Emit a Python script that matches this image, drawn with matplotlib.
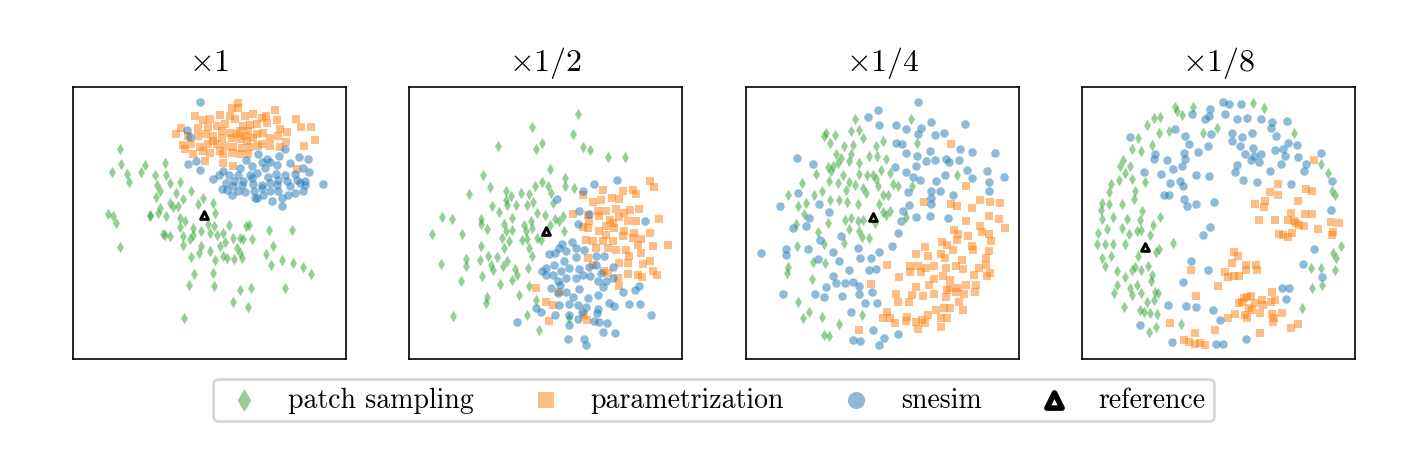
import matplotlib
matplotlib.use("Agg")
import matplotlib.pyplot as plt
import numpy as np

plt.rcParams['mathtext.fontset'] = 'cm'

titles = [r'$\times 1$', r'$\times 1/2$', r'$\times 1/4$', r'$\times 1/8$']
labels = ['patch sampling', 'parametrization', 'snesim', 'reference']

# ---- panel 1 (x1) ----
p1_patch = [(152,193),(155,238),(128,262),(172,268),(178,292),(213,262),(226,242),(285,235),(255,272),(290,272),(262,300),(270,318),(302,295),(330,292),(320,325),(260,338),(300,355),(340,342),(365,320),(385,358),(400,340),(428,355),(435,385),(310,368),(325,365),(270,370),(265,385),(290,395),(240,395),(115,388),(130,395),(140,415),(150,487),(330,400),(345,410),(332,428),(370,430),(340,455),(370,452),(360,462),(395,438),(415,418),(420,445),(433,425),(440,450),(460,445),(478,422),(465,472),(490,460),(510,460),(518,462),(527,425),(537,420),(547,463),(500,490),(510,505),(515,520),(460,515),(470,520),(492,523),(450,485),(420,500),(393,485),(388,505),(365,518),(435,527),(340,480),(285,450),(300,455),(598,435),(665,437),(610,485),(588,508),(604,540),(637,527),(670,536),(698,547),(722,567),(645,610),(543,610),(510,617),(488,650),(533,665),(432,605),(430,565),(373,568),(357,602),(342,698),(280,448),(240,392)]
p1_param = [(505,55),(485,70),(505,72),(480,95),(525,95),(548,88),(575,100),(588,95),(615,78),(677,105),(723,128),(693,128),(652,142),(630,135),(620,108),(590,115),(560,118),(540,122),(520,125),(495,105),(465,118),(450,92),(420,105),(400,108),(375,95),(385,130),(415,128),(440,125),(455,140),(480,145),(510,140),(535,140),(560,150),(580,145),(600,160),(625,155),(648,172),(735,168),(703,185),(335,130),(320,148),(355,155),(385,155),(410,150),(430,155),(455,160),(485,162),(510,165),(530,170),(550,160),(575,180),(600,185),(630,188),(340,182),(365,180),(392,188),(415,180),(440,180),(465,185),(490,188),(515,192),(540,188),(565,185),(460,210),(485,205),(510,210),(535,208),(370,210),(400,200),(405,228),(460,235),(488,245),(680,252),(345,195),(430,170),(500,150),(525,155),(450,200),(420,205)]
p1_snesim = [(390,52),(352,138),(360,158),(356,237),(378,230),(392,256),(527,225),(563,210),(590,223),(628,213),(645,193),(686,218),(713,224),(660,235),(620,242),(600,233),(575,232),(545,245),(510,250),(460,260),(430,283),(447,270),(478,270),(505,270),(540,270),(560,265),(585,250),(618,268),(645,272),(675,268),(700,250),(718,262),(705,290),(760,298),(680,285),(650,290),(625,285),(600,295),(575,300),(550,298),(520,290),(493,290),(468,295),(455,313),(485,330),(505,318),(525,322),(552,320),(560,340),(580,330),(600,320),(625,318),(655,330),(675,325),(700,320),(705,302),(605,350),(635,340),(637,365),(555,340),(575,310),(595,278),(545,280),(515,300),(490,305),(470,315),(620,300),(660,305),(690,295)]
p1_ref = [(402,390)]

# ---- panel 2 (x1/2) ----
p2_patch = [(515,90),(380,128),(500,148),(408,175),(392,195),(276,186),(530,187),(553,198),(606,218),(657,218),(432,253),(478,280),(232,270),(254,306),(190,327),(300,320),(316,335),(345,326),(370,327),(388,303),(410,293),(425,303),(435,325),(477,305),(503,310),(300,345),(330,360),(305,360),(260,365),(280,383),(365,360),(383,353),(393,385),(418,392),(446,403),(458,410),(470,393),(442,355),(110,398),(138,403),(78,447),(170,448),(225,403),(245,432),(225,418),(295,418),(300,440),(320,435),(320,400),(355,420),(375,410),(380,430),(360,440),(395,460),(350,467),(363,462),(405,467),(475,440),(433,420),(290,460),(295,490),(225,485),(222,525),(180,522),(182,545),(105,537),(248,515),(275,517),(255,540),(262,555),(293,545),(305,530),(328,552),(335,570),(318,585),(367,550),(370,490),(378,515),(230,573),(282,598),(166,590),(245,635),(240,655),(370,605),(340,630),(390,645),(365,690),(400,735),(143,693),(490,700),(310,470)]
p2_param = [(590,315),(530,330),(560,353),(585,345),(618,340),(650,318),(680,315),(690,328),(732,290),(744,308),(640,343),(500,388),(545,390),(575,378),(600,380),(630,373),(655,385),(672,375),(698,372),(548,410),(578,395),(612,405),(640,398),(665,410),(690,410),(758,403),(530,428),(545,430),(580,440),(600,425),(625,430),(655,440),(685,445),(732,445),(560,470),(590,470),(620,470),(650,455),(680,460),(705,462),(540,465),(570,490),(605,490),(630,495),(660,495),(695,480),(740,485),(787,481),(705,505),(668,515),(640,535),(665,535),(710,537),(733,530),(560,540),(593,560),(605,565),(635,580),(665,568),(695,570),(708,577),(742,560),(752,572),(640,605),(390,610),(458,620),(420,650),(442,660),(428,708),(535,690),(543,705),(545,520),(620,415),(600,450)]
p2_snesim = [(565,297),(634,285),(453,342),(532,320),(518,380),(548,388),(516,418),(718,410),(468,478),(498,473),(510,490),(458,490),(428,508),(448,505),(480,500),(510,518),(535,495),(570,515),(595,515),(475,528),(445,540),(420,550),(465,560),(490,550),(518,552),(550,548),(570,540),(585,565),(620,548),(408,558),(440,572),(455,590),(480,580),(510,580),(530,570),(553,575),(575,590),(600,590),(420,570),(435,610),(462,600),(480,620),(500,635),(520,613),(545,640),(575,630),(590,607),(620,580),(650,622),(688,615),(700,605),(455,625),(610,655),(625,663),(670,657),(703,657),(735,690),(575,673),(540,665),(515,660),(488,658),(460,660),(448,690),(405,680),(390,670),(488,690),(515,702),(490,720),(565,707),(580,710),(602,715),(590,740),(628,745),(535,762),(540,780),(485,762),(333,712),(527,680),(573,683)]
p2_ref = [(420,440)]

# ---- panel 3 (x1/4) ----
p3_patch = [(338,103),(503,103),(250,145),(243,155),(277,152),(325,140),(350,138),(360,160),(262,177),(305,185),(330,183),(400,185),(420,170),(523,175),(280,210),(295,220),(325,210),(378,215),(402,215),(430,222),(270,245),(255,248),(285,235),(320,230),(348,236),(220,268),(265,258),(302,270),(350,267),(373,270),(390,270),(415,255),(442,265),(643,270),(177,294),(137,330),(215,330),(237,320),(260,290),(285,296),(310,316),(320,293),(338,300),(360,310),(370,325),(400,283),(405,305),(420,330),(435,330),(450,298),(465,305),(165,365),(190,355),(262,345),(290,345),(313,352),(345,358),(410,357),(420,383),(440,380),(185,388),(160,418),(225,442),(255,415),(245,478),(308,405),(326,400),(345,410),(360,405),(318,433),(350,440),(358,458),(380,460),(396,415),(305,475),(488,397),(508,303),(162,483),(210,532),(248,535),(135,548),(132,565),(207,582),(167,652),(198,682),(180,698),(238,697),(290,717),(358,690),(243,750),(258,752),(430,390)]
p3_param = [(625,180),(668,305),(543,353),(625,357),(642,365),(686,370),(712,347),(742,351),(770,355),(738,395),(768,403),(785,430),(670,410),(632,435),(645,447),(642,467),(675,455),(712,423),(718,443),(738,447),(743,470),(688,485),(690,497),(596,472),(612,480),(630,495),(545,488),(520,508),(556,515),(595,507),(606,520),(657,525),(738,500),(728,520),(500,543),(525,545),(550,550),(573,543),(610,550),(640,545),(660,553),(708,550),(730,540),(432,542),(502,563),(535,563),(468,577),(572,583),(600,575),(622,585),(693,570),(733,575),(742,565),(700,600),(670,600),(645,610),(620,610),(612,615),(385,598),(557,602),(520,608),(508,630),(540,632),(574,626),(610,637),(638,620),(663,628),(695,620),(459,626),(464,650),(497,652),(648,652),(660,675),(602,668),(620,668),(580,675),(432,682),(420,700),(440,700),(455,715),(493,695),(490,708),(518,710),(537,705),(555,690),(545,715),(525,733),(593,700),(613,700),(595,725),(348,735)]
p3_snesim = [(525,52),(406,76),(376,98),(408,122),(460,122),(488,133),(533,130),(565,112),(665,118),(524,148),(577,152),(604,147),(458,175),(478,180),(490,207),(523,215),(548,230),(575,225),(608,222),(618,232),(650,195),(688,203),(757,205),(648,225),(560,200),(455,247),(520,243),(490,263),(510,278),(530,287),(580,288),(605,270),(565,320),(590,318),(630,330),(673,257),(686,280),(732,260),(738,293),(784,276),(738,318),(495,323),(498,360),(565,340),(563,358),(480,380),(520,396),(562,394),(614,400),(473,410),(464,445),(448,483),(410,502),(386,520),(353,520),(347,490),(400,552),(378,557),(320,556),(295,454),(270,502),(288,528),(226,522),(233,465),(195,493),(190,423),(200,400),(150,430),(130,492),(130,512),(56,505),(113,365),(166,325),(163,220),(210,237),(229,358),(258,382),(270,573),(250,606),(280,596),(308,596),(330,592),(350,604),(387,620),(298,632),(350,628),(368,653),(403,655),(245,637),(217,626),(121,626),(325,682),(390,735),(424,758),(464,747),(330,764),(352,768),(410,780)]
p3_ref = [(392,398)]

# ---- panel 4 (x1/8) ----
p4_patch = [(290,68),(295,80),(310,92),(343,68),(523,55),(555,70),(205,122),(225,102),(245,97),(270,140),(240,145),(415,130),(373,147),(645,145),(178,160),(160,195),(188,200),(220,182),(133,225),(125,243),(153,243),(140,265),(120,285),(160,283),(200,292),(725,238),(748,265),(96,297),(90,322),(168,320),(165,342),(760,320),(768,330),(70,355),(90,358),(129,358),(68,375),(103,398),(145,403),(190,378),(185,405),(245,398),(223,422),(70,403),(85,432),(130,430),(175,440),(150,447),(186,437),(213,450),(58,445),(55,478),(78,478),(102,478),(140,478),(240,492),(232,502),(282,474),(178,515),(70,520),(98,515),(80,545),(115,560),(160,555),(170,548),(188,555),(208,545),(220,570),(218,590),(140,578),(115,600),(105,625),(155,610),(160,630),(175,600),(188,625),(230,620),(237,625),(205,652),(225,645),(135,665),(185,675),(195,680),(215,685),(235,687),(232,725),(210,740),(308,717),(787,483),(762,505),(770,520),(697,550),(725,550),(768,555),(730,600),(700,610),(668,670)]
p4_param = [(705,227),(596,297),(573,323),(597,330),(680,313),(700,318),(557,350),(527,358),(555,368),(656,350),(540,407),(588,405),(635,385),(628,405),(645,408),(660,420),(675,425),(678,387),(698,387),(650,415),(757,412),(780,415),(717,433),(762,442),(760,452),(600,447),(612,450),(627,458),(640,445),(465,502),(476,515),(460,535),(438,562),(448,578),(466,575),(480,575),(500,540),(530,540),(500,555),(535,555),(337,555),(418,605),(353,632),(494,640),(505,635),(515,632),(490,650),(480,653),(528,655),(548,645),(553,660),(575,652),(578,622),(587,645),(510,670),(520,675),(542,685),(498,690),(505,698),(467,688),(448,698),(580,688),(585,698),(583,710),(608,685),(273,715),(410,735),(348,745),(542,743),(635,728),(657,717),(315,765),(330,770),(350,778),(365,773),(378,780)]
p4_snesim = [(432,52),(450,60),(485,60),(395,73),(340,88),(378,103),(390,95),(437,90),(475,103),(503,100),(545,105),(578,113),(623,110),(288,135),(318,155),(397,148),(460,145),(490,158),(520,145),(575,132),(590,155),(155,158),(330,178),(358,203),(388,185),(460,170),(482,185),(497,208),(523,190),(545,208),(525,215),(517,225),(540,232),(588,197),(613,195),(627,175),(653,182),(617,215),(657,218),(726,207),(230,210),(225,223),(265,225),(316,205),(320,222),(310,243),(283,253),(248,267),(197,263),(352,272),(392,275),(475,240),(467,262),(493,285),(533,293),(573,258),(605,237),(637,298),(675,258),(680,237),(760,290),(275,296),(305,290),(312,303),(255,330),(270,332),(317,342),(325,365),(352,358),(405,352),(757,375),(393,427),(373,452),(706,493),(338,530),(388,555),(313,592),(672,537),(730,577),(610,610),(630,610),(620,643),(268,660),(323,662),(353,667),(402,675),(423,705),(183,720),(280,770),(413,778),(433,778),(502,763)]
p4_ref = [(200,487)]

panels = [
    (p1_patch, p1_param, p1_snesim, p1_ref),
    (p2_patch, p2_param, p2_snesim, p2_ref),
    (p3_patch, p3_param, p3_snesim, p3_ref),
    (p4_patch, p4_param, p4_snesim, p4_ref),
]

W, H = 1428, 477
fig = plt.figure(figsize=(W/100, H/100), dpi=100)
lefts = [73, 409, 746, 1082]
aw, ah = 273, 272
top = 88

handles = []
for i, (patch, param, snes, ref) in enumerate(panels):
    ax = fig.add_axes([lefts[i]/W, 1 - (top + ah)/H, aw/W, ah/H])
    px, py = zip(*patch)
    qx, qy = zip(*param)
    sx, sy = zip(*snes)
    rx, ry = zip(*ref)
    h1 = ax.scatter(px, py, marker='d', s=34, color='tab:green', alpha=0.5, linewidths=0)
    h2 = ax.scatter(qx, qy, marker='s', s=32, color='tab:orange', alpha=0.5, linewidths=0)
    h3 = ax.scatter(sx, sy, marker='o', s=38, color='tab:blue', alpha=0.5, linewidths=0)
    h4 = ax.scatter(rx, ry, marker='^', s=30, facecolor='white', edgecolor='black', linewidths=2.2, zorder=5)
    ax.set_xlim(10, 828)
    ax.set_ylim(822, 8)
    ax.set_xticks([])
    ax.set_yticks([])
    for sp in ax.spines.values():
        sp.set_linewidth(1.2)
    ax.set_title(titles[i], fontsize=23, pad=12)
    handles = [h1, h2, h3, h4]

leg = fig.legend(handles, labels, loc='center', bbox_to_anchor=(713.5/W, 1 - 401/H),
                 ncol=4, markerscale=2, prop={'family': 'cmr10', 'size': 20},
                 frameon=True, fancybox=True, framealpha=1, edgecolor='#d8d8d8',
                 columnspacing=1.8, handlelength=1.6, handletextpad=0.8, borderpad=0.3)
leg.get_frame().set_linewidth(2)
leg.legend_handles[3].set_linewidth(4)

fig.savefig('out.png', dpi=100)
